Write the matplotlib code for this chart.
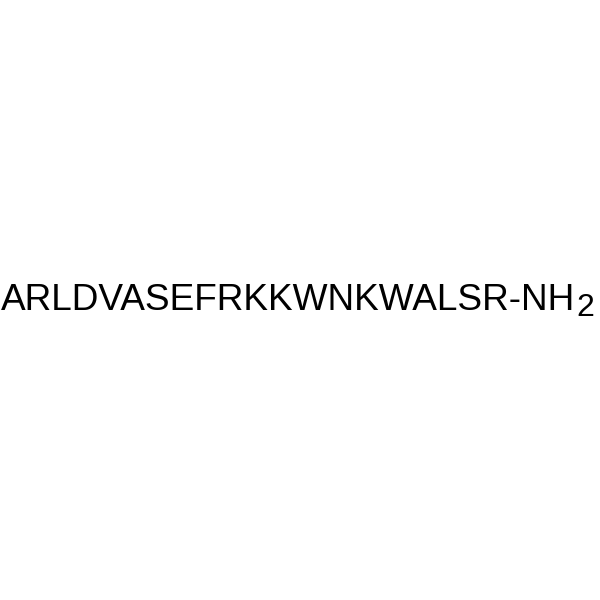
import matplotlib
matplotlib.use("Agg")
import matplotlib.pyplot as plt

main_text = "ARLDVASEFRKKWNKWALSR-NH"
sub_text = "2"

fig = plt.figure(figsize=(6, 6), dpi=100)
fig.patch.set_facecolor("white")
W, H = 600, 600
fs = 26.0
t = fig.text(1 / W, 1 - 310 / H, main_text, fontsize=fs, family="Liberation Sans",
             color="black", ha="left", va="baseline")
fig.canvas.draw()
r = fig.canvas.get_renderer()
bb = t.get_window_extent(r)
target = 577 - 1
fs = fs * target / bb.width
t.set_fontsize(fs)
fig.canvas.draw()
fig.text(576 / W, 1 - 316 / H, sub_text, fontsize=23.0,
         family="Liberation Sans", color="black", ha="left", va="baseline")
fig.savefig("out.png", dpi=100, facecolor="white")
